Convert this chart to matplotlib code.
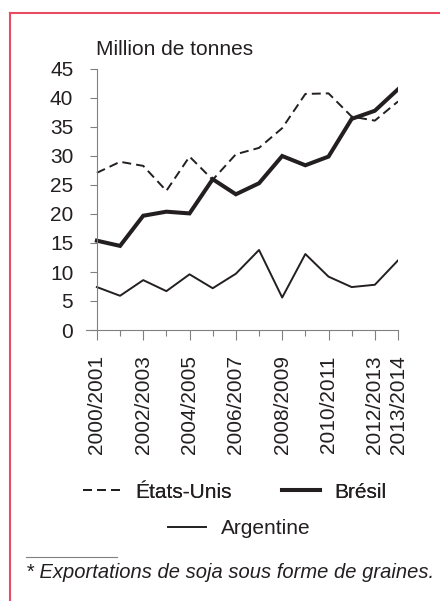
import matplotlib
matplotlib.use('Agg')
import matplotlib.pyplot as plt
from matplotlib.lines import Line2D
from matplotlib.ticker import FixedLocator, FixedFormatter

plt.rcParams['font.family'] = ['Liberation Sans', 'DejaVu Sans']

# data
seasons = ['2000/2001', '2001/2002', '2002/2003', '2003/2004', '2004/2005',
           '2005/2006', '2006/2007', '2007/2008', '2008/2009', '2009/2010',
           '2010/2011', '2011/2012', '2012/2013', '2013/2014']
etats_unis = [27.1, 29.0, 28.3, 24.0, 29.9, 25.9, 30.3, 31.4, 34.8, 40.7, 40.8, 36.8, 36.1, 39.4]
bresil = [15.4, 14.5, 19.7, 20.4, 20.1, 26.0, 23.4, 25.3, 30.0, 28.4, 29.9, 36.4, 37.8, 41.5]
argentine = [7.4, 5.9, 8.6, 6.7, 9.6, 7.2, 9.7, 13.8, 5.6, 13.1, 9.2, 7.4, 7.8, 12.0]
labelled = [0, 2, 4, 6, 8, 10, 12, 13]
y_ticks = [0, 5, 10, 15, 20, 25, 30, 35, 40, 45]

ink = '#231f20'
axis_gray = '#808080'
frame_red = '#ea4a62'
fs = 15

fig = plt.figure(figsize=(4.4, 6.01), dpi=100)
ax = fig.add_axes([86 / 440, 1 - 330 / 601, (398 - 86) / 440, (330 - 69) / 601])

x = list(range(len(seasons)))
l_us, = ax.plot(x, etats_unis, color=ink, lw=1.4, dashes=(4.6, 2.6))
l_br, = ax.plot(x, bresil, color=ink, lw=2.9, solid_joinstyle='miter')
l_ar, = ax.plot(x, argentine, color=ink, lw=1.4)

ax.set_xlim(-0.47, len(seasons) - 1)
ax.set_ylim(0, 45)
ax.spines['left'].set_position(('data', 0))
for s in ['top', 'right']:
    ax.spines[s].set_visible(False)
for s in ['left', 'bottom']:
    ax.spines[s].set_color(axis_gray)
    ax.spines[s].set_linewidth(0.8)

ax.xaxis.set_major_locator(FixedLocator(labelled))
ax.xaxis.set_major_formatter(FixedFormatter([seasons[i] for i in labelled]))
ax.xaxis.set_minor_locator(FixedLocator([i for i in x if i not in labelled]))
ax.tick_params(axis='x', which='major', length=7.2, width=0.8, color=axis_gray,
               direction='out', pad=11, labelsize=fs, labelcolor=ink, labelrotation=90)
ax.tick_params(axis='x', which='minor', length=4.3, width=0.8, color=axis_gray, direction='out')
ax.set_yticks(y_ticks)
ax.tick_params(axis='y', length=5, width=0.8, color=axis_gray, direction='out',
               pad=12, labelsize=fs, labelcolor=ink)

fig.text(96 / 440, 1 - 55 / 601, 'Million de tonnes', fontsize=fs, color=ink, va='baseline')

leg1 = fig.legend([l_us, l_br], ['États-Unis', 'Brésil'], ncol=2, loc='center left',
                  bbox_to_anchor=(83 / 440, 1 - 492 / 601), frameon=False, fontsize=fs,
                  handlelength=1.8, handletextpad=0.72, columnspacing=2.4,
                  borderpad=0, borderaxespad=0, labelcolor=ink)
fig.legend([l_ar], ['Argentine'], loc='center left',
           bbox_to_anchor=(168 / 440, 1 - 529 / 601), frameon=False, fontsize=fs,
           handlelength=1.8, handletextpad=0.72, borderpad=0, borderaxespad=0, labelcolor=ink)
fig.add_artist(leg1)

# footnote
fig.add_artist(Line2D([26 / 440, 117 / 440], [1 - 557 / 601] * 2, color=axis_gray, lw=0.8))
fig.text(26 / 440, 1 - 578 / 601, '* Exportations de soja sous forme de graines.',
         fontsize=14.5, style='italic', color=ink, va='baseline')

# red frame
fig.add_artist(Line2D([10 / 440, 1.0], [1 - 13 / 601] * 2, color=frame_red, lw=1.5))
fig.add_artist(Line2D([10 / 440] * 2, [1 - 13 / 601, 0.0], color=frame_red, lw=1.5))

fig.savefig('out.png', dpi=100)
